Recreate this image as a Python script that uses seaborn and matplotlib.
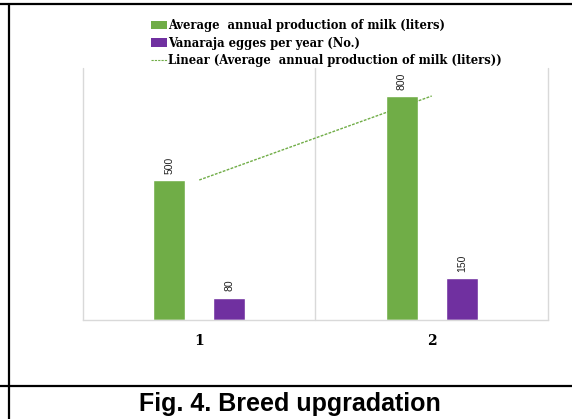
import numpy as np
import pandas as pd
import matplotlib
matplotlib.use("Agg")
import matplotlib.pyplot as plt
import seaborn as sns
from matplotlib.lines import Line2D
from matplotlib.patches import Patch

# Data
categories = ["1", "2"]
milk_liters = [500, 800]
vanaraja_eggs = [80, 150]

milk_label = "Average  annual production of milk (liters)"
eggs_label = "Vanaraja egges per year (No.)"
trend_label = "Linear (Average  annual production of milk (liters))"
caption = "Fig. 4. Breed upgradation"

green = "#70AD47"
purple = "#7030A0"
grid_col = "#D9D9D9"

df = pd.DataFrame({
    "category": categories * 2,
    "value": milk_liters + vanaraja_eggs,
    "series": [milk_label] * len(categories) + [eggs_label] * len(categories),
})

sns.set_style("white")
plt.rcParams["text.color"] = "black"
plt.rcParams["xtick.color"] = "black"

fig = plt.figure(figsize=(5.72, 4.19), dpi=100)
ax = fig.add_axes([0.1451, 0.2363, 0.958 - 0.1451, 0.8377 - 0.2363])

sns.barplot(data=df, x="category", y="value", hue="series",
            palette=[green, purple], width=0.517, gap=0.467,
            legend=False, ax=ax, saturation=1)

# linear trend of the milk series
xs = np.arange(len(categories))
coef = np.polyfit(xs, milk_liters, 1)
ax.plot(xs, np.polyval(coef, xs), color=green, lw=1.0,
        linestyle=(0, (2, 1)), zorder=3)

# value labels, rotated
for cont in ax.containers:
    for bar in cont:
        h = bar.get_height()
        ax.annotate(f"{h:g}", (bar.get_x() + bar.get_width() / 2, h),
                    xytext=(0, 4.5), textcoords="offset points",
                    rotation=90, ha="center", va="bottom",
                    fontsize=7.5, family="Liberation Sans", color="#222222")

ax.set_xlim(-0.5, 1.5)
ax.set_ylim(0, 900)
ax.set_yticks([])
ax.set_xlabel("")
ax.set_ylabel("")
for b in [0.5, 1.5, -0.5]:
    ax.axvline(b, color=grid_col, lw=1, zorder=0, clip_on=False)
for s in ["top", "left", "right"]:
    ax.spines[s].set_visible(False)
ax.spines["bottom"].set_color(grid_col)
ax.spines["bottom"].set_linewidth(1)
ax.tick_params(axis="x", length=0, pad=10)
for t in ax.get_xticklabels():
    t.set_fontfamily("DejaVu Serif")
    t.set_fontweight("bold")
    t.set_fontsize(10)
    t.set_color("black")

handles = [
    Patch(facecolor=green, edgecolor="none"),
    Patch(facecolor=purple, edgecolor="none"),
    Line2D([0], [0], color=green, lw=0.8, linestyle=(0, (2, 1))),
]
fig.legend(handles, [milk_label, eggs_label, trend_label],
           loc="upper left", bbox_to_anchor=(150.5 / 572, 1 - 19.5 / 419),
           frameon=False, handlelength=1.45, handletextpad=0.1,
           labelspacing=0.35, borderaxespad=0, borderpad=0,
           prop={"family": "DejaVu Serif", "weight": "bold", "size": 8.3})

# table cell borders around the figure
fig.add_artist(Line2D([0, 1], [1 - 4.5 / 419] * 2, color="black", lw=1.6))
fig.add_artist(Line2D([9.3 / 572] * 2, [0, 1 - 4.5 / 419], color="black", lw=1.6))
fig.add_artist(Line2D([0, 1], [1 - 385.5 / 419] * 2, color="black", lw=1.6))

fig.text(290 / 572, 1 - 404 / 419, caption, ha="center", va="center",
         fontsize=18, fontweight="bold", family="Liberation Sans", color="black")

fig.savefig("out.png", dpi=100)
